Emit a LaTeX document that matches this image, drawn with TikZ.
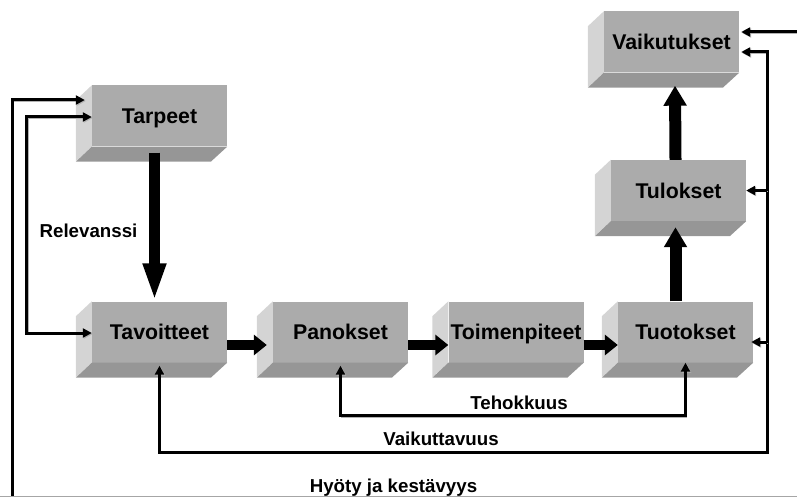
\documentclass[tikz,border=0pt]{standalone}
\usepackage{fontspec}
\setmainfont{Liberation Sans}
\usepackage{tikz}
\usetikzlibrary{arrows.meta}
\usepackage{xcolor}
\definecolor{etu}{RGB}{171,171,171}
\definecolor{sivu}{RGB}{212,212,212}
\definecolor{pohja}{RGB}{150,150,150}
\newcommand{\sivut}[1]{%
    \fill[sivu] (#1.north west) -- ++(-16,15) -- ++(0,61) -- (#1.south west) -- cycle;
    \fill[pohja] (#1.south west) -- ++(-16,15) -- ++(135,0) -- (#1.south east) -- cycle;}

\begin{document}
\begin{tikzpicture}[x=1pt, y=-1pt,
    laatikko/.style={fill=etu, minimum width=135pt, minimum height=61pt, inner sep=0pt,
        text depth=0pt, font=\fontsize{21.3}{24}\selectfont\bfseries},
    teksti/.style={text depth=0pt, font=\fontsize{18.7}{22}\selectfont\bfseries},
    ohut/.style={line width=3pt, >={Triangle[length=9pt,width=9pt]},
        preaction={draw=gray!60, transform canvas={shift={(1pt,-1pt)}}}},
    paksu/.style={line width=11pt, ->, >={Triangle[length=38pt,width=21pt]}},
    paksuv/.style={line width=10pt, ->, >={Triangle[length=13pt,width=20pt]}},
    paksuy/.style={line width=12pt, ->, >={Triangle[length=20pt,width=22pt]}}]
    \useasboundingbox (0,0) rectangle (797,497);

    \node[laatikko] (tarpeet) at (159.5,116) {Tarpeet};
    \node[laatikko] (tavoitteet) at (159.5,332) {Tavoitteet};
    \node[laatikko] (panokset) at (340.5,332) {Panokset};
    \node[laatikko] (toimenpiteet) at (516,332) {Toimenpiteet};
    \node[laatikko] (tuotokset) at (685.5,332) {Tuotokset};
    \node[laatikko] (tulokset) at (678.5,190.5) {Tulokset};
    \node[laatikko] (vaikutukset) at (671.5,42) {Vaikutukset};
    \foreach \n in {tarpeet,tavoitteet,panokset,toimenpiteet,tuotokset,tulokset,vaikutukset}
        \sivut{\n};

    \draw[paksu] ([xshift=-5pt,yshift=-6pt]tarpeet.south) -- ([xshift=-5pt]tavoitteet.north);
    \draw[paksuv] ([yshift=-13pt]tavoitteet.east) -- ([xshift=-6pt,yshift=-13pt]panokset.west);
    \draw[paksuv] ([yshift=-13pt]panokset.east) -- ([yshift=-13pt]toimenpiteet.west);
    \draw[paksuv] ([yshift=-13pt]toimenpiteet.east) -- ([yshift=-13pt]tuotokset.west);
    \draw[paksuy] ([xshift=-10pt]tuotokset.north) -- ([xshift=-3pt,yshift=-6pt]tulokset.south);
    \draw[paksuy] ([xshift=-3pt]tulokset.north) -- ([xshift=3.5pt,yshift=-13pt]vaikutukset.south);

    \node[teksti] (relevanssi) at (88.5,231) {Relevanssi};
    \node[teksti] (tehokkuus) at (519,403) {Tehokkuus};
    \node[teksti] (vaikuttavuus) at (441,439) {Vaikuttavuus};
    \node[teksti] (hyoty) at (393.5,486) {Hyöty ja kestävyys};

    \coordinate (ala) at (12,497);
    \coordinate (oikea) at (767,452);
    \coordinate (reuna) at (797,32);
    \draw[ohut,->] (ala) |- ([xshift=-7pt,yshift=16pt]tarpeet.west);
    \draw[ohut,<->] ([yshift=-1pt]tarpeet.west) -- ++(-65,0) |- ([yshift=-1pt]tavoitteet.west);
    \draw[ohut,<->] ([yshift=-3pt]panokset.south) -- ++(0,50) -| (tuotokset.south);
    \draw[ohut,<->] ([yshift=-3pt]tavoitteet.south) |- (oikea) |- ([xshift=2pt,yshift=-10pt]vaikutukset.east);
    \draw[ohut,->] (tulokset.east -| oikea) -- (tulokset.east);
    \draw[ohut,->] ([yshift=-10pt]tuotokset.east -| oikea) -- ([xshift=-2pt,yshift=-10pt]tuotokset.east);
    \draw[ohut,->] (reuna) -- ([xshift=2pt]reuna -| vaikutukset.east);
    \draw[gray!70, line width=1pt] (0,496.5) -- (797,496.5);
\end{tikzpicture}
\end{document}
